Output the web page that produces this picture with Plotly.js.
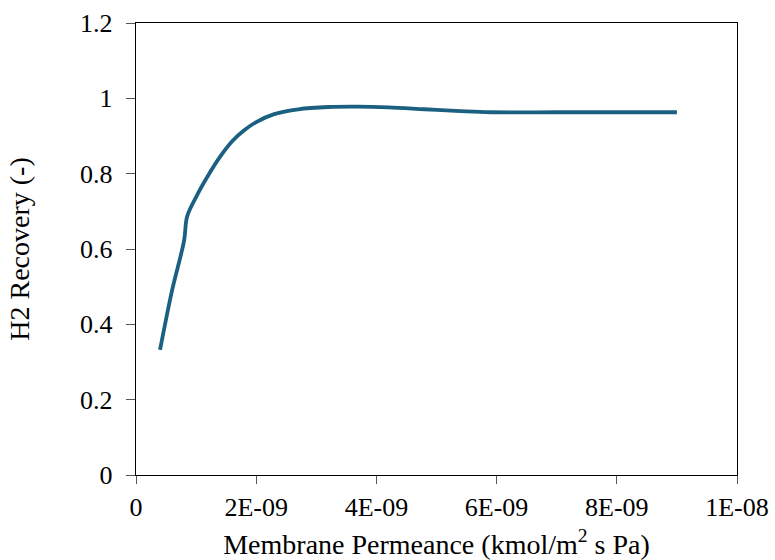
<!DOCTYPE html>
<html>
<head>
<meta charset="utf-8">
<script src="https://cdn.plot.ly/plotly-3.0.1.min.js"></script>
<style>html,body{margin:0;padding:0;background:#fff;}#chart{width:775px;height:560px;}</style>
</head>
<body>
<div id="chart"></div>
<script>
const permeance = [4e-10, 6e-10, 8e-10, 8.5e-10, 1e-9, 1.2e-9, 1.4e-9, 1.6e-9, 1.8e-9, 2e-9, 2.3e-9, 2.7e-9, 3.2e-9, 3.7e-9, 4.2e-9, 4.8e-9, 5.4e-9, 5.9e-9, 7e-9, 8e-9, 9e-9];
const recovery = [0.332, 0.49, 0.622, 0.686, 0.738, 0.795, 0.845, 0.886, 0.915, 0.937, 0.958, 0.971, 0.977, 0.978, 0.976, 0.971, 0.966, 0.963, 0.963, 0.963, 0.963];
const xTickVals = [0, 2e-9, 4e-9, 6e-9, 8e-9, 1e-8];
const xTickText = ["0", "2E-09", "4E-09", "6E-09", "8E-09", "1E-08"];
const yTickVals = [0, 0.2, 0.4, 0.6, 0.8, 1, 1.2];
const yTickText = ["0", "0.2", "0.4", "0.6", "0.8", "1", "1.2"];

const font = {family: "'Liberation Serif', 'Times New Roman', serif", size: 26, color: "#000"};
const titleFont = {family: "'Liberation Serif', 'Times New Roman', serif", size: 28, color: "#000"};
Plotly.newPlot("chart", [{
  x: permeance, y: recovery, type: "scatter", mode: "lines",
  line: {color: "#1b6080", width: 3.8, shape: "spline", smoothing: 1}
}], {
  width: 775, height: 560,
  margin: {l: 136, r: 38, t: 23, b: 85},
  paper_bgcolor: "#fff", plot_bgcolor: "#fff",
  font: font,
  showlegend: false,
  xaxis: {
    range: [0, 1e-8], tickvals: xTickVals, ticktext: xTickText,
    showgrid: false, zeroline: false, showline: true, linecolor: "#000", linewidth: 1.3,
    mirror: true, ticks: "outside", ticklen: 8, tickcolor: "#555",
    tickfont: font,
    title: {text: "Membrane Permeance (kmol/m<sup>2</sup> s Pa)", font: titleFont, standoff: 14}
  },
  yaxis: {
    range: [0, 1.2], tickvals: yTickVals, ticktext: yTickText,
    showgrid: false, zeroline: false, showline: true, linecolor: "#000", linewidth: 1.3,
    mirror: true, ticks: "outside", ticklen: 9, tickcolor: "#555",
    ticklabelstandoff: 8,
    tickfont: font,
    title: {text: "H2 Recovery (-)", font: titleFont, standoff: 42}
  }
}, {displayModeBar: false, staticPlot: true});
</script>
</body>
</html>
